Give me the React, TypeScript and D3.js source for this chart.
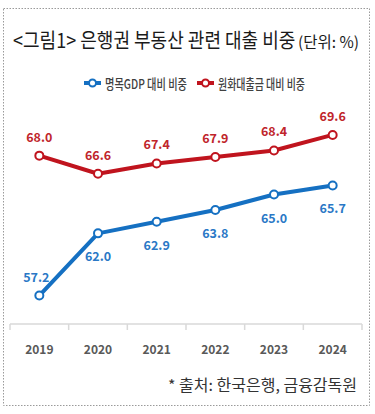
import React from "react";
import * as d3 from "d3";

const years = ["2019", "2020", "2021", "2022", "2023", "2024"];
const gdpRatio = [57.2, 62.0, 62.9, 63.8, 65.0, 65.7];
const loanRatio = [68.0, 66.6, 67.4, 67.9, 68.4, 69.6];
const seriesNames = ["명목GDP 대비 비중", "원화대출금 대비 비중"];
const titleMain = "<그림1> 은행권 부동산 관련 대출 비중";
const titleUnit = "(단위: %)";
const sourceText = "* 출처: 한국은행, 금융감독원";

const BLUE = "#1570C2";
const RED = "#C0141E";
const BLUE_TXT = "#2A78C6";
const RED_TXT = "#C0252B";
const FONT = "'Noto Sans CJK KR', 'Noto Sans', sans-serif";

export default function App() {
  const W = 375;
  const H = 414;
  const x = d3.scaleBand<string>().domain(years).range([10, 362]);
  const cx = (y: string) => (x(y) as number) + x.bandwidth() / 2;
  const y = d3.scaleLinear().domain([55, 75]).range([324, 65]);

  const line = d3
    .line<number>()
    .x((_, i) => cx(years[i]))
    .y((d) => y(d));

  const ticks = [...years.map((yr) => x(yr) as number), 362];

  return (
    <svg width={W} height={H} style={{ position: "absolute", left: 0, top: 0, fontFamily: FONT }}>
      <rect x={0} y={0} width={W} height={H} fill="#fff" />
      <rect x={3.5} y={8.5} width={366} height={397} fill="none" stroke="#9a9a9a" strokeWidth={1} strokeDasharray="1.5 1.5" />
      <g transform="translate(13,48) scale(0.88,1)">
        <text x={0} y={0} fontSize={20.5} fill="#1a1a1a" fontWeight={400}>{titleMain}</text>
      </g>
      <g transform="translate(298,48) scale(1.0,1)">
        <text x={0} y={0} fontSize={15.5} fill="#1a1a1a" fontWeight={400}>{titleUnit}</text>
      </g>

      {/* legend */}
      <g>
        <line x1={84} x2={101} y1={83} y2={83} stroke={BLUE} strokeWidth={4} />
        <circle cx={92.5} cy={83} r={3.5} fill="#fff" stroke={BLUE} strokeWidth={2} />
        <text x={105} y={88.5} fontSize={13.5} fill="#404040" fontWeight={500} textLength={82} lengthAdjust="spacingAndGlyphs">{seriesNames[0]}</text>
        <line x1={197} x2={214} y1={83} y2={83} stroke={RED} strokeWidth={4} />
        <circle cx={205.5} cy={83} r={3.5} fill="#fff" stroke={RED} strokeWidth={2} />
        <text x={218} y={88.5} fontSize={13.5} fill="#404040" fontWeight={500} textLength={87} lengthAdjust="spacingAndGlyphs">{seriesNames[1]}</text>
      </g>

      {/* axis */}
      <line x1={10} x2={362} y1={324} y2={324} stroke="#d9d9d9" strokeWidth={1.5} />
      {ticks.map((t, i) => (
        <line key={i} x1={t} x2={t} y1={324} y2={330} stroke="#d9d9d9" strokeWidth={1.5} />
      ))}
      {years.map((yr) => (
        <text key={yr} x={cx(yr)} y={354} textAnchor="middle" fontSize={12} fontWeight={700} fill="#595959">{yr}</text>
      ))}

      {/* lines */}
      <path d={line(loanRatio) || ""} fill="none" stroke={RED} strokeWidth={4} strokeLinejoin="round" />
      <path d={line(gdpRatio) || ""} fill="none" stroke={BLUE} strokeWidth={4} strokeLinejoin="round" />
      {loanRatio.map((v, i) => (
        <g key={"r" + i}>
          <circle cx={cx(years[i])} cy={y(v)} r={4} fill="#fff" stroke={RED} strokeWidth={2} />
          <text x={cx(years[i])} y={y(v) - 14} textAnchor="middle" fontSize={12.5} fontWeight={700} fill={RED_TXT}>{v.toFixed(1)}</text>
        </g>
      ))}
      {gdpRatio.map((v, i) => (
        <g key={"b" + i}>
          <circle cx={cx(years[i])} cy={y(v)} r={4} fill="#fff" stroke={BLUE} strokeWidth={2} />
          <text x={cx(years[i]) - (i === 0 ? 3 : 0)} y={i === 0 ? y(v) - 14 : y(v) + 28} textAnchor="middle" fontSize={12.5} fontWeight={700} fill={BLUE_TXT}>{v.toFixed(1)}</text>
        </g>
      ))}

      <text x={357} y={391} textAnchor="end" fontSize={15.5} fill="#333" textLength={189} lengthAdjust="spacingAndGlyphs">{sourceText}</text>
    </svg>
  );
}
